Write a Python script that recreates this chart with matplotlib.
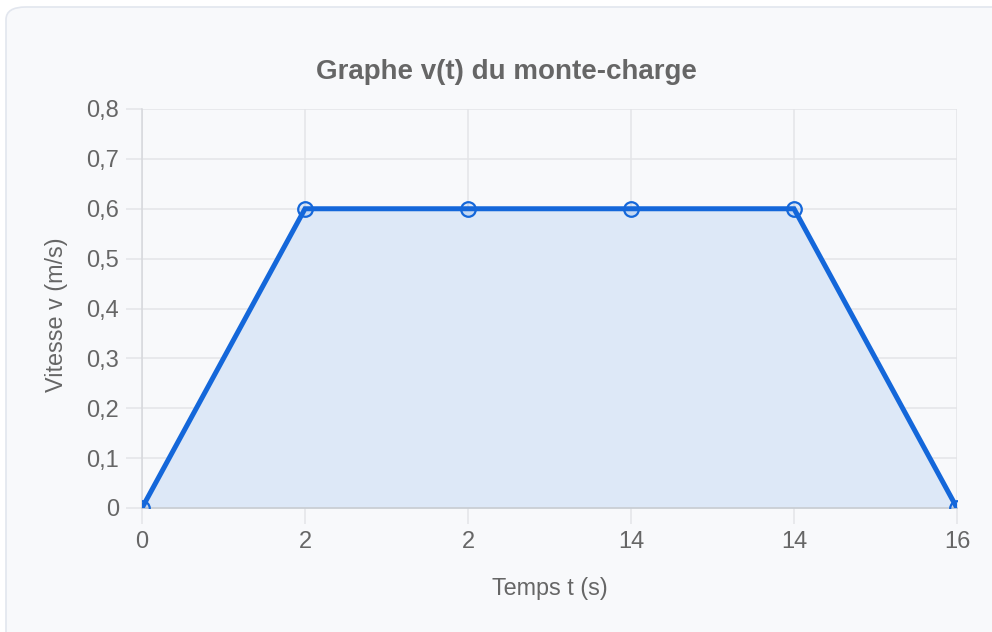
import matplotlib.pyplot as plt
from matplotlib.patches import FancyBboxPatch

plt.rcParams['font.family'] = ['Liberation Sans', 'DejaVu Sans']

# Data (category axis, as in the original)
time_labels = ['0', '2', '2', '14', '14', '16']
speeds = [0, 0.6, 0.6, 0.6, 0.6, 0]
y_ticks = [0, 0.1, 0.2, 0.3, 0.4, 0.5, 0.6, 0.7, 0.8]

W, H = 992, 632
fig = plt.figure(figsize=(W / 100, H / 100), dpi=100)
fig.patch.set_facecolor('white')

# card background
card = FancyBboxPatch((6 / W, -20 / H), (W + 30) / W, (H - 7 + 20) / H,
                      boxstyle='round,pad=0,rounding_size=0.02',
                      transform=fig.transFigure, facecolor='#f8f9fb',
                      edgecolor='#e2e6ee', linewidth=1.2, zorder=-10)
fig.patches.append(card)

ax = fig.add_axes([142 / W, 1 - 508 / H, (957 - 142) / W, (508 - 109) / H])
ax.patch.set_alpha(0)

x = list(range(len(time_labels)))
line_color = '#1467da'
ax.fill_between(x, speeds, 0, color='#dde8f7', zorder=1, linewidth=0)
ax.plot(x, speeds, color=line_color, linewidth=3.6, zorder=3,
        solid_joinstyle='miter')
ax.plot(x, speeds, linestyle='none', marker='o', markersize=10.5,
        markerfacecolor=(0.09, 0.41, 0.86, 0.12), markeredgecolor=line_color,
        markeredgewidth=1.6, zorder=4)

ax.set_xlim(0, len(time_labels) - 1)
ax.set_ylim(0, 0.8)
ax.set_xticks(x)
ax.set_xticklabels(time_labels)
ax.set_yticks(y_ticks)
ax.set_yticklabels(['0' if v == 0 else f'{v:.1f}'.replace('.', ',') for v in y_ticks])

grid_c = '#e4e5e8'
ax.grid(True, color=grid_c, linewidth=1.1, zorder=0)
ax.set_axisbelow(True)
ax.tick_params(axis='both', length=11.5, width=1.1, color=grid_c,
               labelcolor='#666666', labelsize=17)
ax.tick_params(axis='x', pad=5)
ax.tick_params(axis='y', pad=5)

for s in ['top', 'right']:
    ax.spines[s].set_visible(False)
ax.spines['left'].set_color('#d6d8dc')
ax.spines['bottom'].set_color('#c6c9ce')
ax.spines['left'].set_linewidth(1.1)
ax.spines['bottom'].set_linewidth(1.1)

ax.set_xlabel('Temps t (s)', color='#666666', fontsize=16.8)
ax.set_ylabel('Vitesse v (m/s)', color='#666666', fontsize=16.8)
ax.xaxis.set_label_coords(0.5, -0.172)
ax.yaxis.set_label_coords(-0.091, 0.485)
fig.text(506 / W, 1 - 72 / H, 'Graphe v(t) du monte-charge', ha='center',
         va='center', fontsize=20, fontweight='bold', color='#666666')

fig.savefig('out.png', dpi=100, facecolor=fig.get_facecolor())
